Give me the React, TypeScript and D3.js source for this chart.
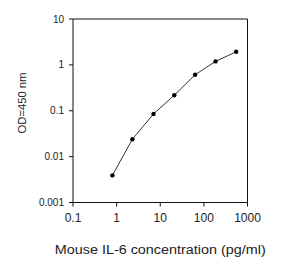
import React from "react";
import * as d3 from "d3";

const concentrations = [0.8, 2.3, 7, 21, 63, 185, 550];
const odValues = [0.0039, 0.024, 0.085, 0.218, 0.61, 1.19, 1.93];
const xTicks = [0.1, 1, 10, 100, 1000];
const yTicks = [0.001, 0.01, 0.1, 1, 10];
const xTickLabels = ["0.1", "1", "10", "100", "1000"];
const yTickLabels = ["0.001", "0.01", "0.1", "1", "10"];
const xTitle = "Mouse IL-6 concentration (pg/ml)";
const yTitle = "OD=450 nm";

const W = 284;
const H = 272;
const left = 73;
const right = 247.5;
const top = 19;
const bottom = 202.5;

export default function App() {
  const x = d3.scaleLog().domain([0.1, 1000]).range([left, right]);
  const y = d3.scaleLog().domain([0.001, 10]).range([bottom, top]);
  const pts: [number, number][] = concentrations.map((c, i) => [c, odValues[i]]);
  const line = d3
    .line<[number, number]>()
    .x((d) => x(d[0]))
    .y((d) => y(d[1]));
  const font = "Arial, 'Liberation Sans', sans-serif";
  return (
    <svg
      width={W}
      height={H}
      style={{ position: "absolute", left: 0, top: 0, background: "#fff" }}
      fontFamily={font}
    >
      <rect x={0} y={0} width={W} height={H} fill="#fff" />
      <path
        d={`M${left},${bottom}V${top}H${right}V${bottom}H${left}Z`}
        fill="none"
        stroke="#111"
        strokeWidth={1}
      />
      {yTicks.map((t, i) => (
        <g key={"y" + i}>
          <line x1={left - 4} x2={left} y1={y(t)} y2={y(t)} stroke="#111" />
          <text
            x={left - 9}
            y={y(t)}
            dy="0.35em"
            textAnchor="end"
            fontSize={10}
            fill="#222"
          >
            {yTickLabels[i]}
          </text>
        </g>
      ))}
      {xTicks.map((t, i) => (
        <g key={"x" + i}>
          <line x1={x(t)} x2={x(t)} y1={bottom} y2={bottom + 4} stroke="#111" />
          <text
            x={x(t)}
            y={222}
            textAnchor="middle"
            fontSize={12}
            fill="#222"
          >
            {xTickLabels[i]}
          </text>
        </g>
      ))}
      <path d={line(pts) || ""} fill="none" stroke="#333" strokeWidth={1} />
      {pts.map((p, i) => (
        <circle key={"p" + i} cx={x(p[0])} cy={y(p[1])} r={2.2} fill="#000" />
      ))}
      <text
        x={(left + right) / 2}
        y={254}
        textAnchor="middle"
        fontSize={12}
        fill="#222"
        textLength={211}
        lengthAdjust="spacingAndGlyphs"
      >
        {xTitle}
      </text>
      <text
        transform={`translate(25.5,103) rotate(-90)`}
        textAnchor="middle"
        fontSize={11.5}
        fill="#222"
        textLength={61}
        lengthAdjust="spacingAndGlyphs"
      >
        {yTitle}
      </text>
    </svg>
  );
}
